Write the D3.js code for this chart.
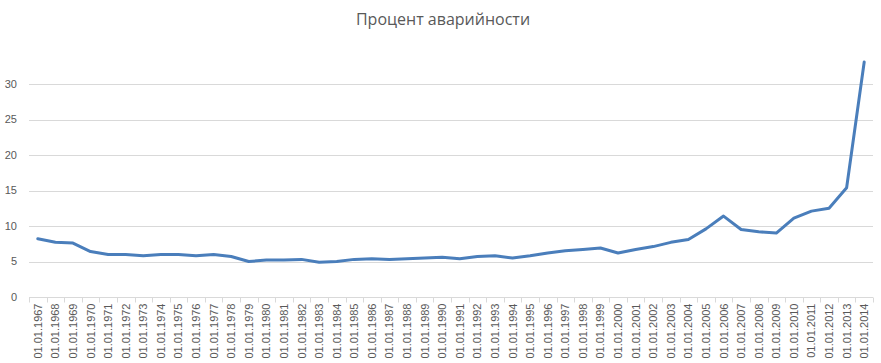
<!DOCTYPE html>
<html>
<head>
<meta charset="utf-8">
<script src="https://cdn.jsdelivr.net/npm/d3@7"></script>
<style>
  body { margin: 0; background: #fff; }
  svg { display: block; }
  text { font-family: "Liberation Sans", Arial, sans-serif; fill: #595959; }
</style>
</head>
<body>
<div id="chart"></div>
<script>
const title = 'Процент аварийности';

const years = d3.range(1967, 2015).map(y => '01.01.' + y);

const values = [
  8.2, 7.7, 7.6, 6.4, 6.0, 6.0, 5.8, 6.0, 6.0, 5.8,
  6.0, 5.7, 5.0, 5.2, 5.2, 5.3, 4.9, 5.0, 5.3, 5.4,
  5.3, 5.4, 5.5, 5.6, 5.4, 5.7, 5.8, 5.5, 5.8, 6.2,
  6.5, 6.7, 6.9, 6.2, 6.7, 7.1, 7.7, 8.1, 9.6, 11.4,
  9.5, 9.2, 9.0, 11.1, 12.1, 12.5, 15.4, 33.1
];

const yTicks = [0, 5, 10, 15, 20, 25, 30];

const W = 881, H = 363;
const margin = { top: 45, right: 8, bottom: 66, left: 29 };
const width = W - margin.left - margin.right;
const height = H - margin.top - margin.bottom;

const data = years.map((d, i) => ({ label: d, value: values[i] }));

let svg = d3.select('#chart').append('svg')
    .attr('width', W)
    .attr('height', H);

let g = svg.append('g').attr('transform', 'translate(' + margin.left + ',' + margin.top + ')');

const x = d3.scaleBand().domain(years).range([0, width]);
const y = d3.scaleLinear().domain([0, 35.5]).range([height, 0]);

// gridlines
g.append('g')
    .selectAll('line')
    .data(yTicks.filter(t => t > 0))
    .enter().append('line')
    .attr('x1', 0)
    .attr('x2', width)
    .attr('y1', d => Math.round(y(d)) + 0.5)
    .attr('y2', d => Math.round(y(d)) + 0.5)
    .attr('stroke', '#d9d9d9')
    .attr('stroke-width', 1);

// y labels
g.append('g')
    .selectAll('text')
    .data(yTicks)
    .enter().append('text')
    .attr('x', -12)
    .attr('y', d => y(d))
    .attr('dy', '0.35em')
    .attr('text-anchor', 'end')
    .style('font-size', '11px')
    .text(d => d);

// x axis
const xAxis = g.append('g')
    .attr('transform', 'translate(0,' + (Math.round(height) + 0.5) + ')');

xAxis.append('line')
    .attr('x1', 0).attr('x2', width)
    .attr('stroke', '#d9d9d9');

xAxis.selectAll('.tick-mark')
    .data(years.concat(['end']))
    .enter().append('line')
    .attr('class', 'tick-mark')
    .attr('x1', (d, i) => Math.round(i * x.step()) + 0.5)
    .attr('x2', (d, i) => Math.round(i * x.step()) + 0.5)
    .attr('y1', 0).attr('y2', 5)
    .attr('stroke', '#d9d9d9');

xAxis.selectAll('.xlabel')
    .data(years)
    .enter().append('text')
    .attr('class', 'xlabel')
    .attr('transform', d => 'translate(' + (x(d) + x.bandwidth() / 2 + 4) + ',6) rotate(-90)')
    .attr('text-anchor', 'end')
    .style('font-size', '11px')
    .text(d => d);

// line
const line = d3.line()
    .x(d => x(d.label) + x.bandwidth() / 2)
    .y(d => y(d.value));

g.append('path')
    .datum(data)
    .attr('fill', 'none')
    .attr('stroke', '#4a7ebb')
    .attr('stroke-width', 3)
    .attr('stroke-linejoin', 'round')
    .attr('stroke-linecap', 'round')
    .attr('d', line);

// title
svg.append('text')
    .attr('x', 443)
    .attr('y', 25)
    .attr('text-anchor', 'middle')
    .style('font-size', '16px')
    .style('font-family', '"Open Sans", sans-serif')
    .text(title);
</script>
</body>
</html>
